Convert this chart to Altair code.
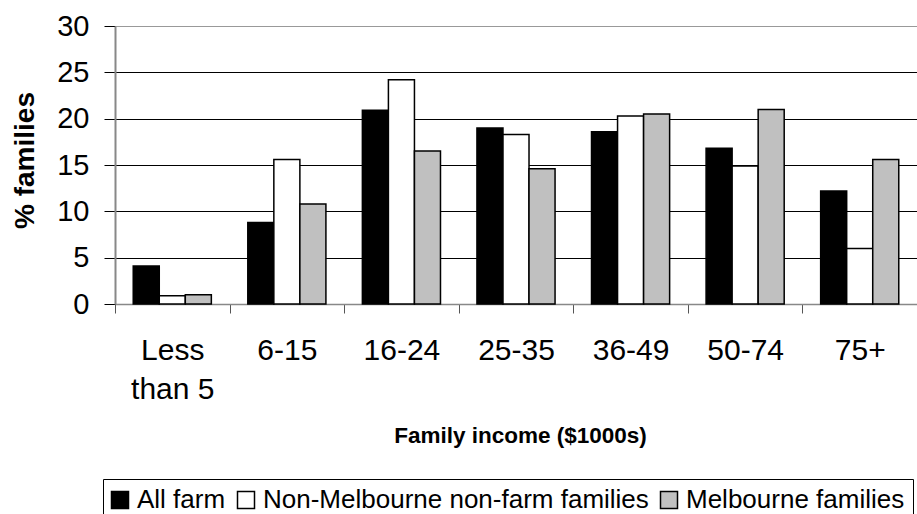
import altair as alt
import pandas as pd

categories = ["Less than 5", "6-15", "16-24", "25-35", "36-49", "50-74", "75+"]
series = ["All farm", "Non-Melbourne non-farm families", "Melbourne families"]
all_farm = [4.1, 8.8, 20.9, 19.0, 18.6, 16.8, 12.2]
non_melb = [0.9, 15.6, 24.2, 18.3, 20.3, 14.9, 6.0]
melb = [1.0, 10.8, 16.5, 14.6, 20.5, 21.0, 15.6]
colors = ["#000000", "#ffffff", "#c0c0c0"]
y_ticks = [0, 5, 10, 15, 20, 25, 30]

rows = []
for s, vals in zip(series, [all_farm, non_melb, melb]):
    for c, v in zip(categories, vals):
        rows.append({"income": c, "series": s, "pct": v})
df = pd.DataFrame(rows)

FONT = "Liberation Sans"

bars = alt.Chart(df).mark_bar(stroke="black", strokeWidth=1.5).encode(
    x=alt.X(
        "income:N",
        sort=categories,
        scale=alt.Scale(paddingInner=0, paddingOuter=0),
        axis=alt.Axis(
            title="Family income ($1000s)",
            labelAngle=0,
            tickBand="extent",
            tickSize=9,
            tickColor="#555555",
            domainColor="#888888",
            domainWidth=1.5,
            labelFontSize=30,
            labelColor="black",
            labelPadding=22,
            labelLineHeight=39,
            labelBaseline="top",
            labelExpr="datum.label == 'Less than 5' ? ['Less', 'than 5'] : datum.label",
            titleFontSize=22.5,
            titleFontWeight="bold",
            titleColor="black",
            titleBaseline="alphabetic",
            titleY=138,
            titleX=405,
            titleAlign="center",
        ),
    ),
    xOffset=alt.XOffset(
        "series:N",
        sort=series,
        scale=alt.Scale(paddingInner=0, paddingOuter=0.7),
    ),
    y=alt.Y(
        "pct:Q",
        scale=alt.Scale(domain=[0, 30], nice=False),
        axis=alt.Axis(
            title="% families",
            values=y_ticks,
            tickSize=11,
            tickColor="black",
            domainColor="#888888",
            domainWidth=2,
            gridColor={"condition": {"test": "datum.value === 30", "value": "#999999"}, "value": "black"},
            gridWidth=1,
            labelFontSize=29,
            labelColor="black",
            labelPadding=15,
            titleFontSize=28,
            titleFontWeight="bold",
            titleColor="black",
            titleAngle=-90,
            titleBaseline="alphabetic",
            titleAlign="center",
            titleX=-82,
            titleY=134,
        ),
    ),
    color=alt.Color(
        "series:N",
        sort=series,
        scale=alt.Scale(domain=series, range=colors),
        legend=alt.Legend(
            title=None,
            orient="none",
            legendX=-12,
            legendY=453,
            direction="horizontal",
            strokeColor="black",
            padding=8,
            symbolType="square",
            symbolSize=289,
            symbolOffset=-4,
            symbolStrokeColor="black",
            symbolStrokeWidth=1.5,
            labelFontSize=26,
            labelColor="black",
            labelOffset=4,
            labelLimit=1000,
            columnPadding=8,
        ),
    ),
)

chart = bars.properties(
    width=802,
    height=278,
    autosize=alt.AutoSizeParams(type="none"),
    padding={"left": 115, "top": 26, "right": 0, "bottom": 210},
).configure(
    font=FONT,
).configure_view(stroke=None)

chart.save("out.html", embed_options={"renderer": "svg", "actions": False})
